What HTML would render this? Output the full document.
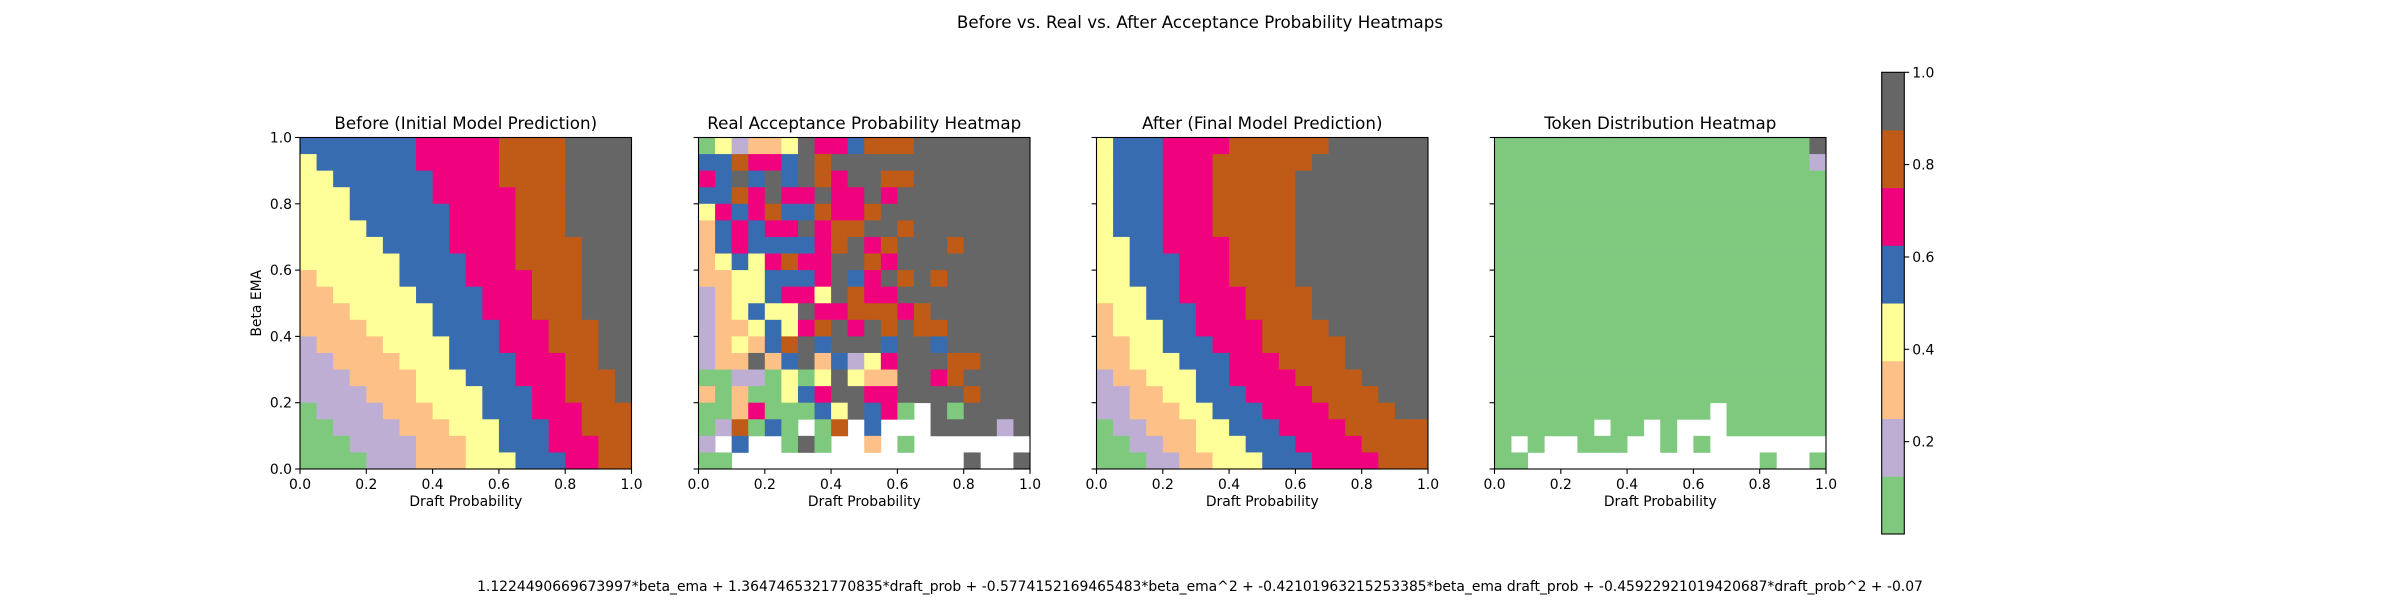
<!DOCTYPE html>
<html><head><meta charset="utf-8">
<style>
html,body{margin:0;padding:0;background:#fff;}
svg{display:block;font-family:"DejaVu Sans","Liberation Sans",sans-serif;}
</style></head>
<body>
<svg id="fig" width="2400" height="600" viewBox="0 0 2400 600" xmlns="http://www.w3.org/2000/svg">
<text x="1200" y="28" font-size="16.7" text-anchor="middle" fill="#000">Before vs. Real vs. After Acceptance Probability Heatmaps</text>
<text x="1200" y="591" font-size="13.9" text-anchor="middle" fill="#000">1.1224490669673997*beta_ema + 1.3647465321770835*draft_prob + -0.5774152169465483*beta_ema^2 + -0.42101963215253385*beta_ema draft_prob + -0.45922921019420687*draft_prob^2 + -0.07</text>
</svg>
<script>
// Category codes per cell (0..7 Accent bins, '.' = empty), rows top (beta=1.0) to bottom
const beforeRows = [
"44444445555566667777","34444445555566667777","33444444555566667777","33344444555556667777",
"33344444455556667777","33334444455556667777","33333444455556666777","33333344445556666777",
"23333344445555666777","22333334444555666777","22233333444555666777","22223333444455566677",
"12222333344455566677","11222233344445556677","11122223334445556667","11112223333444556667",
"01111222333444555666","00111122233344455666","00011112223344455566","00001112223334445566"];
const realRows = [
"03122375546667777777","44655476777777777777","54748476577667777777","44657557557577777777",
"35456446556777777777","24545575667767777777","24544445675677767777","23435655776577777777",
"22334445745767677777","12334553765577777777","12343375566656777777","12234356757676677777",
"12324674777477477777","12272472413577766777","00110303732277567777","20200345775577776777",
"0025000437450.707777","016040.06.4...777717","1.4..070..2.0.......","00..............7..7"];
const afterRows = [
"34445555666666777777","34445556666667777777","34445556666677777777","34445556666677777777",
"34445556666677777777","34445556666677777777","33445555666677777777","33444555666677777777",
"33444555666677777777","33344555566667777777","23344455566667777777","23334455556666777777",
"22334445556666677777","22333444555666677777","12233344555566667777","11223344455556666777",
"11222334445555666677","01122233444555566666","00112233344455556666","00011223334445555666"];
const tokenRows = [
"00000000000000000007","00000000000000000001","00000000000000000000","00000000000000000000",
"00000000000000000000","00000000000000000000","00000000000000000000","00000000000000000000",
"00000000000000000000","00000000000000000000","00000000000000000000","00000000000000000000",
"00000000000000000000","00000000000000000000","00000000000000000000","00000000000000000000",
"0000000000000.000000","000000.00.0...000000","0.0..000..0.0.......","00..............0..0"];
const panelTitles = ["Before (Initial Model Prediction)","Real Acceptance Probability Heatmap","After (Final Model Prediction)","Token Distribution Heatmap"];
const tickLabels = ["0.0","0.2","0.4","0.6","0.8","1.0"];
const tickValues = [0,0.2,0.4,0.6,0.8,1.0];
const cbarTickValues = [0.2,0.4,0.6,0.8,1.0];
const cbarTickLabels = ["0.2","0.4","0.6","0.8","1.0"];

const palette = ["#7fc97f","#beaed4","#fdc086","#ffff99","#386cb0","#f0027f","#bf5b17","#666666"];
const NS = "http://www.w3.org/2000/svg";
const svg = document.getElementById("fig");
function mk(tag, attrs, parent){const e=document.createElementNS(NS,tag);for(const k in attrs)e.setAttribute(k,attrs[k]);(parent||svg).appendChild(e);return e;}
function parseRows(rows){return rows.map(r=>r.split("").map(c=>c==="."?null:(parseInt(c)+0.5)/8));}
function colorOf(v){return palette[Math.min(7,Math.floor(v*8))];}

const panelLefts=[300,698.5,1096.5,1494.5], pTop=137.5, pSize=331.5;
const datasets=[beforeRows,realRows,afterRows,tokenRows].map(parseRows);
const names=["before","real","after","token"];

datasets.forEach((grid,p)=>{
  const L=panelLefts[p];
  const xS=v=>L+v*pSize;
  const yS=v=>pTop+(1-v)*pSize;
  const g=mk("g",{});
  
  
  const n=grid.length, m=20;
  grid.forEach((row,i)=>row.forEach((v,j)=>{
    if(v===null||j>=m)return;
    const x0=xS(j/m), x1=xS((j+1)/m), y0=yS(1-i/n), y1=yS(1-(i+1)/n);
    const r=mk("rect",{x:x0,y:y0,width:x1-x0+0.4,height:y1-y0+0.4,fill:colorOf(v)},g);
    
    
  }));
  const fr=mk("rect",{x:L,y:pTop,width:pSize,height:pSize,fill:"none",stroke:"#000","stroke-width":1.1});
  
  
  const t=mk("text",{x:L+pSize/2,y:129,"font-size":16.7,"text-anchor":"middle",fill:"#000"});
  t.textContent=panelTitles[p];
  
  
  tickValues.forEach((tv,k)=>{
    mk("line",{x1:xS(tv),x2:xS(tv),y1:pTop+pSize,y2:pTop+pSize+4.9,stroke:"#000","stroke-width":1.1});
    const xl=mk("text",{x:xS(tv),y:pTop+pSize+20,"font-size":13.9,"text-anchor":"middle",fill:"#000"});
    xl.textContent=tickLabels[k];
    
    
    mk("line",{x1:L,x2:L-4.9,y1:yS(tv),y2:yS(tv),stroke:"#000","stroke-width":1.1});
    if(p===0){
      const yl=mk("text",{x:L-8,y:yS(tv)+5,"font-size":13.9,"text-anchor":"end",fill:"#000"});
      yl.textContent=tickLabels[k];
      
      
    }
  });
  const xt=mk("text",{x:L+pSize/2,y:506,"font-size":13.9,"text-anchor":"middle",fill:"#000"});
  xt.textContent="Draft Probability";
  
  
  if(p===0){
    const yt=mk("text",{x:0,y:0,"font-size":13.9,"text-anchor":"middle",fill:"#000",transform:`translate(261,${pTop+pSize/2}) rotate(-90)`});
    yt.textContent="Beta EMA";
    
    
  }
});

const cbL=1881.7, cbW=22.6, cbTop=72.3, cbBot=534;
const cS=v=>cbBot-v*(cbBot-cbTop);
palette.forEach((c,k)=>{
  const r=mk("rect",{x:cbL,y:cS((k+1)/8),width:cbW,height:cS(k/8)-cS((k+1)/8)+0.4,fill:c});
  
  
});
const cbf=mk("rect",{x:cbL,y:cbTop,width:cbW,height:cbBot-cbTop,fill:"none",stroke:"#000","stroke-width":1.1});


cbarTickValues.forEach((tv,k)=>{
  mk("line",{x1:cbL+cbW,x2:cbL+cbW+4.9,y1:cS(tv),y2:cS(tv),stroke:"#000","stroke-width":1.1});
  const l=mk("text",{x:cbL+cbW+8,y:cS(tv)+5,"font-size":13.9,fill:"#000"});
  l.textContent=cbarTickLabels[k];
  
  
});
</script>
</body></html>
